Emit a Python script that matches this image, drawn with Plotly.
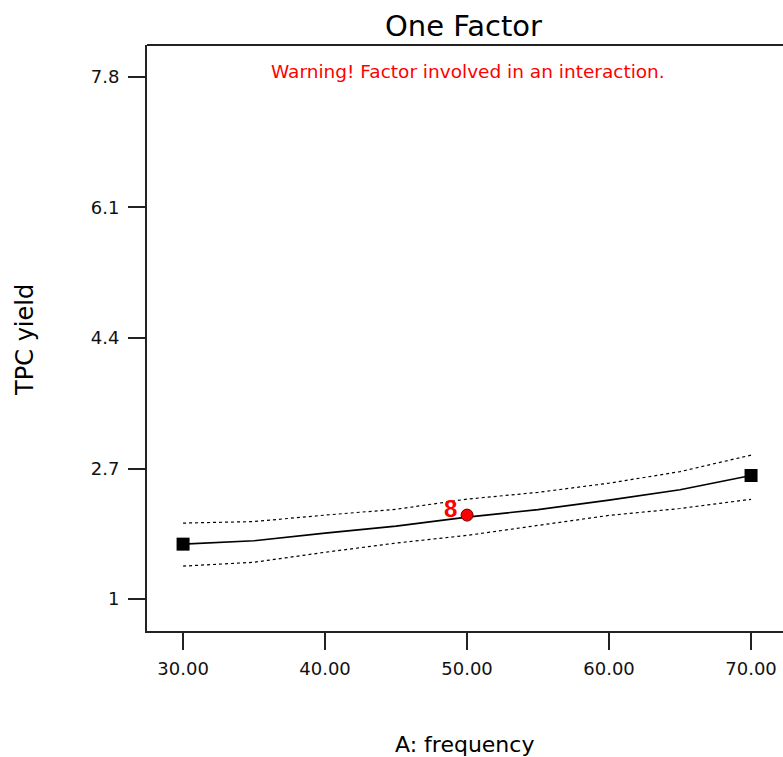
import plotly.graph_objects as go

# Data
freq = [30, 35, 40, 45, 50, 55, 60, 65, 70]
predicted = [1.716, 1.760, 1.859, 1.951, 2.068, 2.165, 2.289, 2.425, 2.610]
upper_ci = [1.99, 2.01, 2.094, 2.17, 2.302, 2.39, 2.51, 2.66, 2.875]
lower_ci = [1.43, 1.48, 1.61, 1.73, 1.83, 1.96, 2.09, 2.18, 2.30]

design_x = [50]
design_y = [2.094]
design_label = ["8"]

x_ticks = [30, 40, 50, 60, 70]
x_ticklabels = ["30.00", "40.00", "50.00", "60.00", "70.00"]
y_ticks = [1, 2.7, 4.4, 6.1, 7.8]
y_ticklabels = ["1", "2.7", "4.4", "6.1", "7.8"]

FONT = "DejaVu Sans, Liberation Sans, Arial, sans-serif"
NARROW = "Liberation Sans Narrow, Liberation Sans, Arial, sans-serif"

fig = go.Figure()
fig.add_trace(go.Scatter(x=freq, y=upper_ci, mode="lines",
                         line=dict(color="black", width=1.2, dash="dot"), showlegend=False))
fig.add_trace(go.Scatter(x=freq, y=lower_ci, mode="lines",
                         line=dict(color="black", width=1.2, dash="dot"), showlegend=False))
fig.add_trace(go.Scatter(x=freq, y=predicted, mode="lines",
                         line=dict(color="black", width=1.6), showlegend=False))
fig.add_trace(go.Scatter(x=[freq[0], freq[-1]], y=[predicted[0], predicted[-1]], mode="markers",
                         marker=dict(symbol="square", size=13, color="black"), showlegend=False))
fig.add_trace(go.Scatter(x=design_x, y=design_y, mode="markers",
                         marker=dict(symbol="circle", size=12, color="#ff0000",
                                     line=dict(color="#660000", width=1)), showlegend=False))

for xv, yv, lab in zip(design_x, design_y, design_label):
    fig.add_annotation(x=xv, y=yv, text="<b>" + lab + "</b>", showarrow=False,
                       xshift=-17, yshift=7, font=dict(family=NARROW, size=24, color="#ff0000"))

fig.add_annotation(xref="paper", yref="paper", x=0.498, y=1.0324, text="One Factor",
                   showarrow=False, xanchor="center", yanchor="middle",
                   font=dict(family=FONT, size=29, color="black"))
fig.add_annotation(xref="paper", yref="paper", x=0.504, y=0.9556,
                   text="Warning! Factor involved in an interaction.",
                   showarrow=False, xanchor="center", yanchor="middle",
                   font=dict(family=FONT, size=18.5, color="#ff0000"))
fig.add_annotation(xref="paper", yref="paper", x=0.499, y=-0.1945, text="A: frequency",
                   showarrow=False, xanchor="center", yanchor="middle",
                   font=dict(family=FONT, size=22, color="black"))
fig.add_annotation(xref="paper", yref="paper", x=-0.192, y=0.4966, text="TPC yield",
                   showarrow=False, xanchor="center", yanchor="middle", textangle=-90,
                   font=dict(family=FONT, size=24, color="black"))

fig.update_layout(
    width=783, height=757,
    margin=dict(l=147, r=0, t=45, b=126),
    plot_bgcolor="white", paper_bgcolor="white",
    font=dict(family=FONT, size=18, color="#111111"),
    xaxis=dict(range=[27.46, 72.25], tickvals=x_ticks, ticktext=x_ticklabels,
               showgrid=False, zeroline=False, showline=True, linecolor="#222222", linewidth=2,
               ticks="outside", ticklen=17, tickwidth=2, tickcolor="#222222",
               ticklabelstandoff=3,
               tickfont=dict(family=FONT, size=18, color="#111111")),
    yaxis=dict(range=[0.585, 8.215], tickvals=y_ticks, ticktext=y_ticklabels,
               showgrid=False, zeroline=False, showline=True, linecolor="#222222", linewidth=2,
               ticks="outside", ticklen=17, tickwidth=2, tickcolor="#222222",
               ticklabelstandoff=5,
               tickfont=dict(family=FONT, size=18, color="#111111")),
)

# top border line of plot area
fig.add_shape(type="line", xref="paper", yref="paper", x0=0, x1=1, y0=1, y1=1,
              line=dict(color="#222222", width=2))

fig.write_html("out.html")
